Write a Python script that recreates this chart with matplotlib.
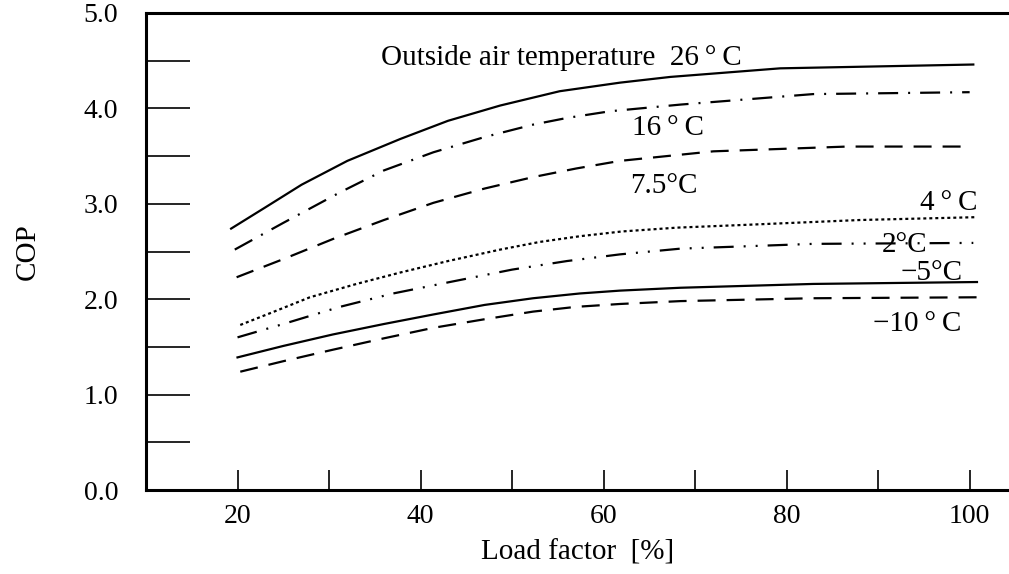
import matplotlib
matplotlib.use("Agg")
import matplotlib.pyplot as plt
from matplotlib.ticker import MultipleLocator, FixedLocator

plt.rcParams['font.family'] = ['Liberation Serif', 'DejaVu Serif']
plt.rcParams['lines.scale_dashes'] = False

# Load factor [%] and COP readings for each outside air temperature
load_26 = [19.3, 23.0, 27.0, 32.0, 37.8, 43.0, 48.7, 55.2, 61.8, 67.3, 79.3, 100.4]
cop_26 = [2.74, 2.96, 3.20, 3.45, 3.68, 3.87, 4.03, 4.18, 4.27, 4.33, 4.42, 4.46]

load_16 = [19.7, 25.0, 31.2, 36.0, 41.4, 47.0, 52.3, 56.0, 60.7, 68.4, 82.9, 100.0]
cop_16 = [2.52, 2.80, 3.12, 3.35, 3.54, 3.70, 3.83, 3.90, 3.97, 4.04, 4.15, 4.17]

load_75 = [19.9, 25.0, 30.4, 36.0, 41.4, 47.0, 52.3, 57.0, 61.8, 72.0, 86.6, 99.3]
cop_75 = [2.23, 2.42, 2.63, 2.83, 3.01, 3.16, 3.28, 3.37, 3.45, 3.55, 3.60, 3.60]

load_4 = [20.3, 24.0, 27.9, 33.0, 37.8, 43.0, 48.7, 53.0, 57.4, 62.0, 68.0, 75.7, 88.0, 100.8]
cop_4 = [1.73, 1.87, 2.02, 2.16, 2.28, 2.40, 2.52, 2.60, 2.66, 2.71, 2.75, 2.78, 2.83, 2.86]

load_2 = [20.0, 25.0, 31.2, 37.0, 43.2, 50.0, 56.0, 61.8, 68.4, 82.9, 100.4]
cop_2 = [1.60, 1.74, 1.92, 2.06, 2.18, 2.31, 2.40, 2.47, 2.53, 2.58, 2.59]

load_m5 = [20.0, 25.0, 30.4, 36.0, 41.4, 47.0, 52.3, 57.4, 61.8, 68.4, 82.9, 100.8]
cop_m5 = [1.39, 1.51, 1.63, 1.74, 1.84, 1.94, 2.01, 2.06, 2.09, 2.12, 2.16, 2.18]

load_m10 = [20.3, 25.0, 30.4, 36.0, 41.4, 47.0, 52.3, 57.0, 61.8, 68.4, 82.9, 100.8]
cop_m10 = [1.24, 1.35, 1.47, 1.59, 1.70, 1.79, 1.87, 1.92, 1.95, 1.98, 2.01, 2.02]

x_ticks = [20, 40, 60, 80, 100]
x_minor = [30, 50, 70, 90]
y_ticks = [0, 1, 2, 3, 4, 5]
y_ticklabels = ["0.0", "1.0", "2.0", "3.0", "4.0", "5.0"]

PX = 0.72  # one pixel in points at 100 dpi
dash_dot = (0, (20 * PX, 10 * PX, 2 * PX, 10 * PX))
dash_dot_dot = (0, (20 * PX, 10 * PX, 2 * PX, 10 * PX, 2 * PX, 10 * PX))
dashed = (0, (18 * PX, 11 * PX))
dotted = (0, (3 * PX, 3 * PX))

fig = plt.figure(figsize=(10.09, 5.74), dpi=100)
ax = fig.add_axes([146 / 1009, (574 - 490) / 574, 1 - 146 / 1009, (490 - 13) / 574])

lw = 1.6
ax.plot(load_26, cop_26, color='black', lw=lw, ls='-')
ax.plot(load_16, cop_16, color='black', lw=lw, ls=dash_dot)
ax.plot(load_75, cop_75, color='black', lw=lw, ls=dashed)
ax.plot(load_4, cop_4, color='black', lw=lw, ls=dotted)
ax.plot(load_2, cop_2, color='black', lw=lw, ls=dash_dot_dot)
ax.plot(load_m5, cop_m5, color='black', lw=lw, ls='-')
ax.plot(load_m10, cop_m10, color='black', lw=lw, ls=dashed)

ax.set_xlim(10, 104.3)
ax.set_ylim(0, 5)

for side in ('left', 'bottom', 'top'):
    ax.spines[side].set_linewidth(2.2)
ax.spines['right'].set_visible(False)

ax.xaxis.set_major_locator(FixedLocator(x_ticks))
ax.xaxis.set_minor_locator(FixedLocator(x_minor))
ax.set_xticklabels([str(v) for v in x_ticks])
ax.yaxis.set_major_locator(FixedLocator(y_ticks))
ax.yaxis.set_minor_locator(MultipleLocator(0.5))
ax.set_yticklabels(y_ticklabels)

ax.tick_params(axis='x', which='both', direction='in', length=20 * PX, width=1.2,
               labelsize=20, pad=10, top=False)
ax.tick_params(axis='y', which='both', direction='in', length=44 * PX, width=1.2,
               labelsize=20, pad=20, right=False)

ax.set_xlabel("Load factor  [%]", fontsize=21, labelpad=8)
ax.set_ylabel("COP", fontsize=21, labelpad=31)

ts = 21
ax.text(35.7, 4.457, "Outside air temperature  26\u2009°\u2009C", fontsize=ts,
        ha='left', va='baseline')
ax.text(63.1, 3.72, "16\u2009°\u2009C", fontsize=ts, ha='left', va='baseline')
ax.text(62.9, 3.11, "7.5°C", fontsize=ts, ha='left', va='baseline')
ax.text(94.6, 2.934, "4\u2009°\u2009C", fontsize=ts, ha='left', va='baseline')
ax.text(90.4, 2.497, "2°C", fontsize=ts, ha='left', va='baseline')
ax.text(92.4, 2.206, "\u22125°C", fontsize=ts, ha='left', va='baseline')
ax.text(89.45, 1.663, "\u221210\u2009°\u2009C", fontsize=ts, ha='left', va='baseline')

fig.savefig("out.png", dpi=100)
